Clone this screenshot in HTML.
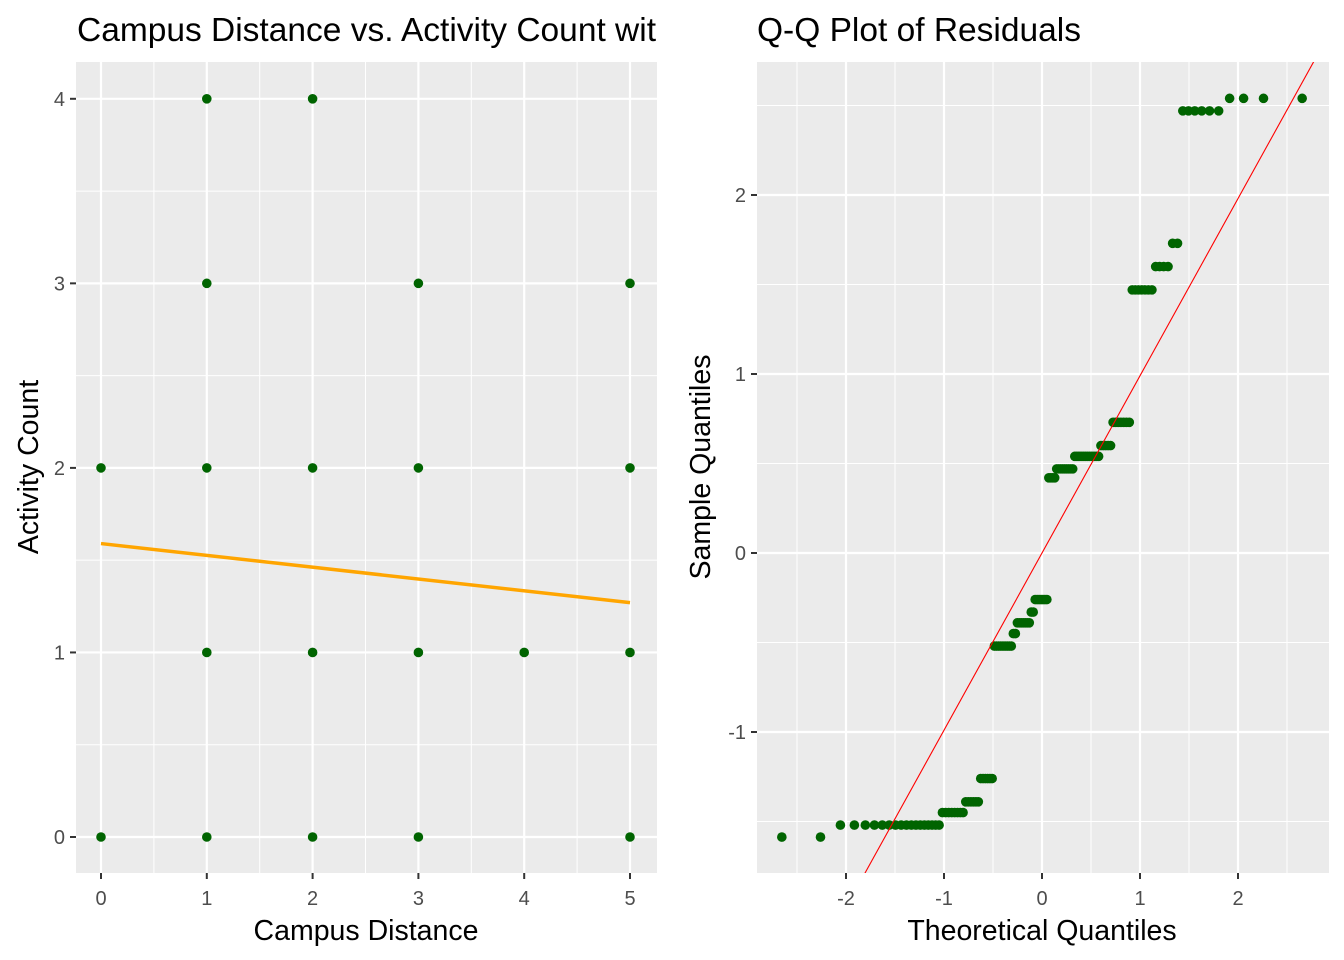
<!DOCTYPE html>
<html><head><meta charset="utf-8"><style>
html,body{margin:0;padding:0;background:#fff;width:1344px;height:960px;overflow:hidden;}
svg{display:block;font-family:"Liberation Sans",Arial,sans-serif;}
</style></head><body>
<svg id="s" width="1344" height="960" viewBox="0 0 1344 960"></svg>
<script>
// Left chart data
const distX = [0,0,1,1,1,1,1,2,2,2,2,3,3,3,3,4,5,5,5,5];
const countY = [0,2,0,1,2,3,4,0,1,2,4,0,1,2,3,1,0,1,2,3];
const fitStart = [0,1.59];
const fitEnd = [5,1.27];
const leftXTicks = [0,1,2,3,4,5];
const leftYTicks = [0,1,2,3,4];
// Right chart data (residual levels and how many observations at each)
const residLevels = [-1.587,-1.52,-1.45,-1.39,-1.26,-0.52,-0.45,-0.39,-0.33,-0.26,0.42,0.47,0.54,0.60,0.73,1.47,1.60,1.73,2.47,2.54];
const residCounts = [2,17,8,6,6,9,2,7,2,7,4,9,12,5,7,7,4,2,6,4];
const qqSlope = 0.99;
const qqIntercept = 0;
const rightXTicks = [-2,-1,0,1,2];
const rightYTicks = [-1,0,1,2];

const NS="http://www.w3.org/2000/svg";
const svg=document.getElementById('s');
function mk(tag,attrs,parent){const e=document.createElementNS(NS,tag);for(const k in attrs)e.setAttribute(k,attrs[k]);(parent||svg).appendChild(e);return e;}
function txt(str,attrs){const e=mk('text',attrs);e.textContent=str;return e;}

function qnorm(p){
 const a=[-39.69683028665376,220.9460984245205,-275.9285104469687,138.3577518672690,-30.66479806614716,2.506628277459239];
 const b=[-54.47609879822406,161.5858368580409,-155.6989798598866,66.80131188771972,-13.28068155288572];
 const c=[-0.007784894002430293,-0.3223964580411365,-2.400758277161838,-2.549732539343734,4.374664141464968,2.938163982698783];
 const d=[0.007784695709041462,0.3224671290700398,2.445134137142996,3.754408661907416];
 let q,r;
 if(p<0.02425){q=Math.sqrt(-2*Math.log(p));return (((((c[0]*q+c[1])*q+c[2])*q+c[3])*q+c[4])*q+c[5])/((((d[0]*q+d[1])*q+d[2])*q+d[3])*q+1);}
 if(p>1-0.02425){q=Math.sqrt(-2*Math.log(1-p));return -(((((c[0]*q+c[1])*q+c[2])*q+c[3])*q+c[4])*q+c[5])/((((d[0]*q+d[1])*q+d[2])*q+d[3])*q+1);}
 q=p-0.5;r=q*q;return (((((a[0]*r+a[1])*r+a[2])*r+a[3])*r+a[4])*r+a[5])*q/(((((b[0]*r+b[1])*r+b[2])*r+b[3])*r+b[4])*r+1);
}

// ---------- Left panel ----------
const L={x0:76,x1:657,y0:62,y1:873};
const lx=v=>101+105.8*v, ly=v=>837-184.55*v;
const lcp=mk('clipPath',{id:'lt'});mk('rect',{x:0,y:0,width:L.x1,height:60},lcp);
let r=mk('rect',{x:L.x0,y:L.y0,width:L.x1-L.x0,height:L.y1-L.y0,fill:'#ebebeb'});


for(let v=-0.5;v<=5.5;v+=1){const X=lx(v);if(X>L.x0&&X<L.x1)mk('line',{x1:X,x2:X,y1:L.y0,y2:L.y1,stroke:'#fff','stroke-width':1});}
for(let v=-0.5;v<=4.5;v+=1){const Y=ly(v);if(Y>L.y0&&Y<L.y1)mk('line',{x1:L.x0,x2:L.x1,y1:Y,y2:Y,stroke:'#fff','stroke-width':1});}
leftXTicks.forEach(v=>{const X=lx(v);mk('line',{x1:X,x2:X,y1:L.y0,y2:L.y1,stroke:'#fff','stroke-width':2.2});
 mk('line',{x1:X,x2:X,y1:L.y1,y2:L.y1+6,stroke:'#333','stroke-width':2});
 const t=txt(String(v),{x:X,y:905,'text-anchor':'middle','font-size':20,fill:'#4d4d4d'});
 
 });
leftYTicks.forEach(v=>{const Y=ly(v);mk('line',{x1:L.x0,x2:L.x1,y1:Y,y2:Y,stroke:'#fff','stroke-width':2.2});
 mk('line',{x1:L.x0-6,x2:L.x0,y1:Y,y2:Y,stroke:'#333','stroke-width':2});
 const t=txt(String(v),{x:L.x0-11,y:Y+7,'text-anchor':'end','font-size':20,fill:'#4d4d4d'});
 
 });
distX.forEach((d,i)=>{const c=mk('circle',{cx:lx(d),cy:ly(countY[i]),r:4.8,fill:'#006400'});
 
 });
let fl=mk('line',{x1:lx(fitStart[0]),y1:ly(fitStart[1]),x2:lx(fitEnd[0]),y2:ly(fitEnd[1]),stroke:'#ffa500','stroke-width':3.5});


let t1=txt('Campus Distance vs. Activity Count with',{x:77,y:41,'font-size':33.5,fill:'#000','clip-path':'url(#lt)'});


let t2=txt('Campus Distance',{x:366,y:940,'text-anchor':'middle','font-size':28.5,fill:'#000'});


let t3=txt('Activity Count',{x:0,y:0,'text-anchor':'middle','font-size':28.5,fill:'#000',transform:'translate(38,467) rotate(-90)'});



// ---------- Right panel ----------
const R={x0:757,x1:1329,y0:62,y1:873};
const rx=v=>1042+98*v, ry=v=>553-179*v;
r=mk('rect',{x:R.x0,y:R.y0,width:R.x1-R.x0,height:R.y1-R.y0,fill:'#ebebeb'});


for(let v=-3.5;v<=3.5;v+=1){const X=rx(v);if(X>R.x0&&X<R.x1)mk('line',{x1:X,x2:X,y1:R.y0,y2:R.y1,stroke:'#fff','stroke-width':1});}
for(let v=-2.5;v<=3.5;v+=1){const Y=ry(v);if(Y>R.y0&&Y<R.y1)mk('line',{x1:R.x0,x2:R.x1,y1:Y,y2:Y,stroke:'#fff','stroke-width':1});}
rightXTicks.forEach(v=>{const X=rx(v);mk('line',{x1:X,x2:X,y1:R.y0,y2:R.y1,stroke:'#fff','stroke-width':2.2});
 mk('line',{x1:X,x2:X,y1:R.y1,y2:R.y1+6,stroke:'#333','stroke-width':2});
 const t=txt(String(v),{x:X,y:905,'text-anchor':'middle','font-size':20,fill:'#4d4d4d'});
 
 });
rightYTicks.forEach(v=>{const Y=ry(v);mk('line',{x1:R.x0,x2:R.x1,y1:Y,y2:Y,stroke:'#fff','stroke-width':2.2});
 mk('line',{x1:R.x0-6,x2:R.x0,y1:Y,y2:Y,stroke:'#333','stroke-width':2});
 const t=txt(String(v),{x:R.x0-11,y:Y+7,'text-anchor':'end','font-size':20,fill:'#4d4d4d'});
 
 });
const sample=[];residLevels.forEach((lv,i)=>{for(let k=0;k<residCounts[i];k++)sample.push(lv);});
const n=sample.length;
sample.forEach((s,i)=>{const q=qnorm((i+1-0.5)/n);
 const c=mk('circle',{cx:rx(q),cy:ry(s),r:4.8,fill:'#006400'});
 
 });
const cp=mk('clipPath',{id:'rc'});mk('rect',{x:R.x0,y:R.y0,width:R.x1-R.x0,height:R.y1-R.y0},cp);
const xa=-3.5,xb=3.5;
let ql=mk('line',{x1:rx(xa),y1:ry(qqIntercept+qqSlope*xa),x2:rx(xb),y2:ry(qqIntercept+qqSlope*xb),stroke:'#ff0000','stroke-width':1.1,'clip-path':'url(#rc)'});


let t4=txt('Q-Q Plot of Residuals',{x:757,y:41,'font-size':33.5,fill:'#000'});


let t5=txt('Theoretical Quantiles',{x:1042,y:940,'text-anchor':'middle','font-size':28.5,fill:'#000'});


let t6=txt('Sample Quantiles',{x:0,y:0,'text-anchor':'middle','font-size':28.5,fill:'#000',transform:'translate(710,467) rotate(-90)'});


</script>
</body></html>
